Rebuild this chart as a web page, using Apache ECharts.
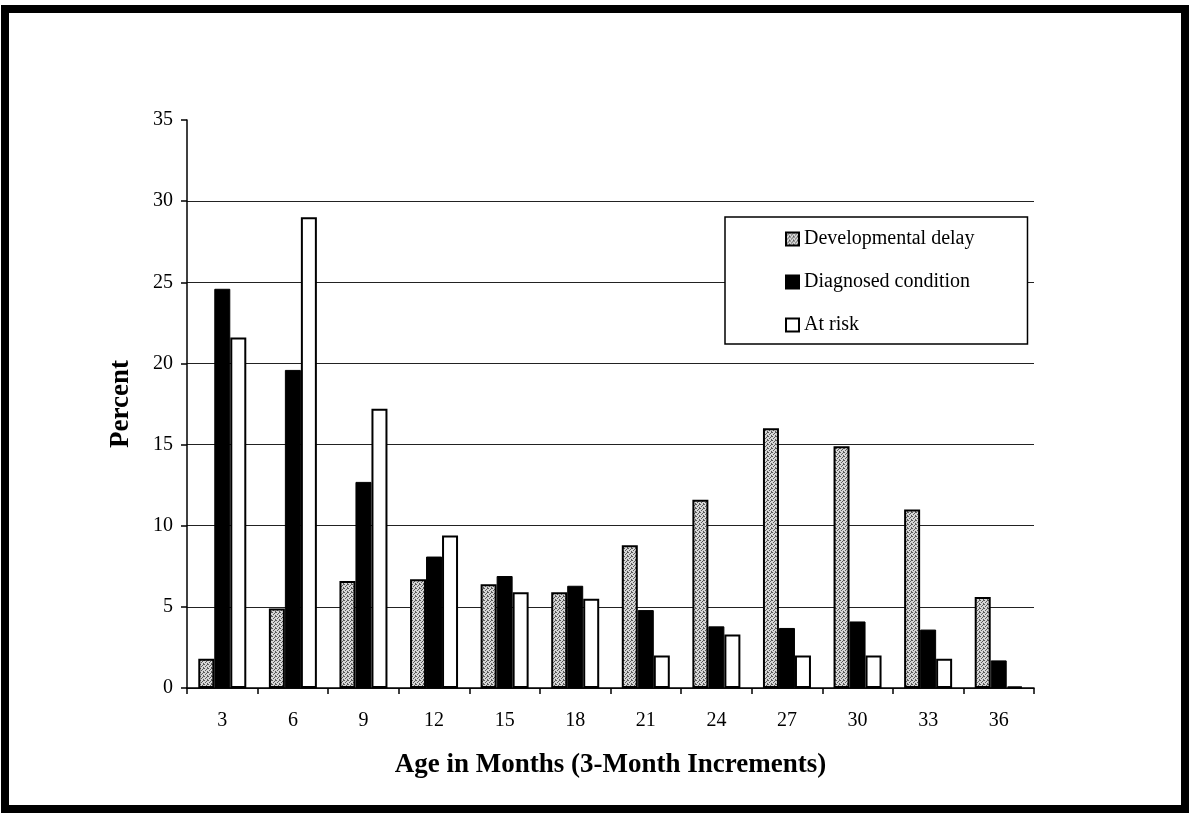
<!DOCTYPE html>
<html>
<head>
<meta charset="utf-8">
<script src="https://cdn.jsdelivr.net/npm/echarts@6/dist/echarts.min.js"></script>
<style>
html,body{margin:0;padding:0;background:#fff;}
#chart{width:1191px;height:816px;}
</style>
</head>
<body>
<div id="chart"></div>
<script>
const categories = ['3','6','9','12','15','18','21','24','27','30','33','36'];
const developmentalDelay = [1.8, 4.9, 6.6, 6.7, 6.4, 5.9, 8.8, 11.6, 16.0, 14.9, 11.0, 5.6];
const diagnosedCondition = [24.6, 19.6, 12.7, 8.1, 6.9, 6.3, 4.8, 3.8, 3.7, 4.1, 3.6, 1.7];
const atRisk = [21.6, 29.0, 17.2, 9.4, 5.9, 5.5, 2.0, 3.3, 2.0, 2.0, 1.8, 0.1];
const seriesNames = ['Developmental delay', 'Diagnosed condition', 'At risk'];

// stipple pattern for the grey bars (style only)
function makeStipple() {
  const c = document.createElement('canvas');
  c.width = 4; c.height = 4;
  const g = c.getContext('2d');
  g.fillStyle = '#d6d6d6';
  g.fillRect(0, 0, 4, 4);
  g.fillStyle = '#5a5a5a';
  const pts = [[0,0],[2,1],[1,2],[3,3],[3,0]];
  pts.forEach(p => g.fillRect(p[0], p[1], 1, 1));
  return c;
}
const stipple = { image: makeStipple(), repeat: 'repeat' };

const serif = '"Liberation Serif", "DejaVu Serif", serif';
const chart = echarts.init(document.getElementById('chart'), null, { renderer: 'canvas' });

chart.setOption({
  animation: false,
  backgroundColor: '#fff',
  textStyle: { fontFamily: serif, color: '#000' },
  graphic: [{
    type: 'rect',
    shape: { x: 5, y: 9, width: 1180, height: 800 },
    style: { fill: 'none', stroke: '#000', lineWidth: 8 },
    silent: true
  }],
  grid: { left: 187, right: 157, top: 120, bottom: 128, containLabel: false },
  legend: {
    orient: 'vertical',
    left: 725,
    top: 217,
    padding: [12, 53, 9, 60],
    itemGap: 23,
    itemWidth: 13,
    itemHeight: 13,
    borderColor: '#000',
    borderWidth: 1.5,
    backgroundColor: '#fff',
    icon: 'rect',
    textStyle: { fontFamily: serif, fontSize: 20, color: '#000' },
    data: seriesNames
  },
  xAxis: {
    type: 'category',
    data: categories,
    name: 'Age in Months (3-Month Increments)',
    nameLocation: 'middle',
    nameGap: 64,
    nameTextStyle: { fontFamily: serif, fontSize: 27, fontWeight: 'bold', color: '#000' },
    axisLine: { show: true, lineStyle: { color: '#000', width: 1.5 } },
    axisTick: { show: true, length: 6, lineStyle: { color: '#000', width: 1.5 } },
    axisLabel: { fontFamily: serif, fontSize: 20, color: '#000', margin: 23 },
    splitLine: { show: false }
  },
  yAxis: {
    type: 'value',
    min: 0,
    max: 35,
    interval: 5,
    name: 'Percent',
    nameLocation: 'middle',
    nameGap: 52,
    nameRotate: 90,
    nameTextStyle: { fontFamily: serif, fontSize: 27, fontWeight: 'bold', color: '#000' },
    axisLine: { show: true, lineStyle: { color: '#000', width: 1.5 } },
    axisTick: { show: true, length: 6, lineStyle: { color: '#000', width: 1.5 } },
    axisLabel: { fontFamily: serif, fontSize: 20, color: '#000', margin: 14 },
    splitLine: { show: true, showMaxLine: false, lineStyle: { color: '#222', width: 1.2 } }
  },
  series: [
    {
      name: seriesNames[0],
      type: 'bar',
      data: developmentalDelay,
      barWidth: 16,
      barGap: '0%',
      itemStyle: { color: stipple, borderColor: '#000', borderWidth: 2 }
    },
    {
      name: seriesNames[1],
      type: 'bar',
      data: diagnosedCondition,
      barWidth: 16,
      barGap: '0%',
      itemStyle: { color: '#000', borderColor: '#000', borderWidth: 1 }
    },
    {
      name: seriesNames[2],
      type: 'bar',
      data: atRisk,
      barWidth: 16,
      barGap: '0%',
      itemStyle: { color: '#fff', borderColor: '#000', borderWidth: 2 }
    }
  ]
});
</script>
</body>
</html>
